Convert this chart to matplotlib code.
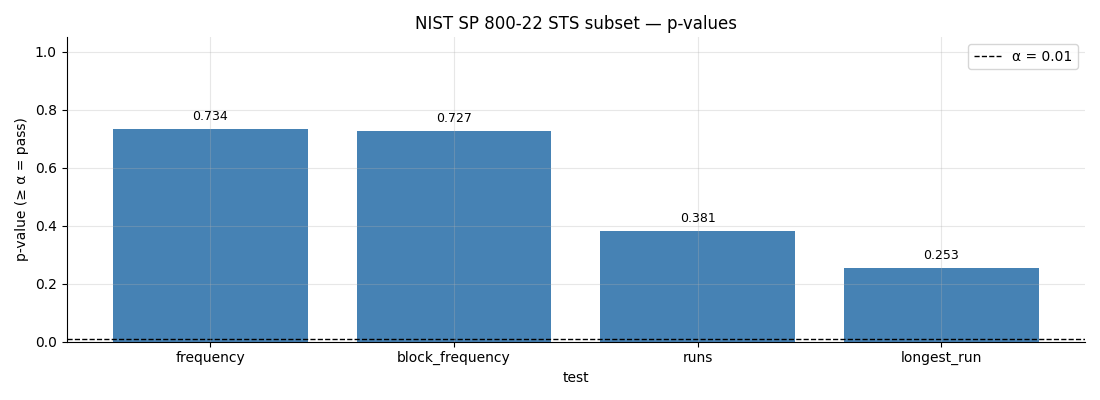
import matplotlib
matplotlib.use("Agg")
import matplotlib.pyplot as plt

tests = ["frequency", "block_frequency", "runs", "longest_run"]
p_values = [0.734, 0.727, 0.381, 0.253]
alpha = 0.01

fig, ax = plt.subplots(figsize=(11, 4), dpi=100)
bars = ax.bar(tests, p_values, color="steelblue", width=0.8)
ax.axhline(alpha, color="black", linestyle="--", linewidth=1, label="α = 0.01")

for b, v in zip(bars, p_values):
    ax.text(b.get_x() + b.get_width() / 2, v + 0.02, f"{v:.3f}",
            ha="center", va="bottom", fontsize=9)

ax.set_ylim(0, 1.05)
ax.set_xlabel("test")
ax.set_ylabel("p-value (≥ α = pass)")
ax.set_title("NIST SP 800-22 STS subset — p-values")
ax.grid(True, alpha=0.3)
ax.set_axisbelow(False)
ax.spines["top"].set_visible(False)
ax.spines["right"].set_visible(False)
ax.legend(loc="upper right")

fig.subplots_adjust(left=0.0605, right=0.9865, top=0.907, bottom=0.146)
fig.savefig("out.png", dpi=100)
